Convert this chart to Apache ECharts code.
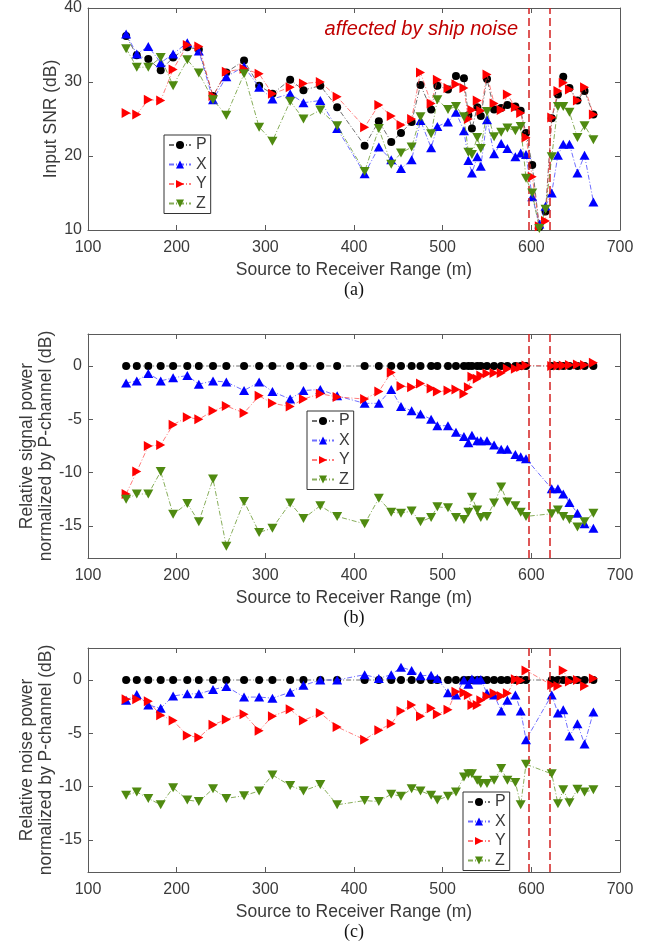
<!DOCTYPE html>
<html><head><meta charset="utf-8">
<script src="https://cdn.jsdelivr.net/npm/echarts@6/dist/echarts.min.js"></script>
<style>html,body{margin:0;padding:0;background:#fff}#chart{width:655px;height:947px}</style>
</head><body><div id="chart"></div>
<script>
// Source-to-receiver ranges (m), shared by all panels
const ranges = [143,155,168,182,196,212,225,241,256,276, 293,308,328,343,362,381,412,428,442,453, 465,475,487,494,506,515,524,529,533,539, 543,550,558,566,573,582,588,594,601,609, 616,623,630,636,643,652,660,670];

// (a) Input SNR (dB)
const snrP = [36.2,33.6,33.1,31.6,33.3,34.7,34.4,28.1,31.3,32.9, 29.5,28.4,30.3,28.9,29.5,26.6,21.4,24.7,21.9,23.1, 24.6,29.6,26.3,29.5,29.0,30.8,30.5,25.5,23.7,26.6, 25.4,30.4,26.3,26.5,26.9,26.7,26.1,23.1,18.8,10.4, 12.5,25.1,28.3,30.7,29.2,27.5,28.8,25.6];
const snrX = [36.5,33.8,34.8,32.6,33.8,35.3,34.2,27.6,30.7,32.1, 29.3,27.7,28.4,27.2,27.5,23.7,17.6,21.2,19.5,18.3, 19.5,24.8,21.1,24.0,24.6,25.9,23.4,19.4,17.7,19.9, 18.6,24.9,20.3,21.7,21.0,19.9,20.4,20.2,14.5,10.8, 13.2,15.0,20.1,21.6,21.6,17.7,20.1,13.8];
const snrY = [25.8,25.6,27.6,27.5,31.7,35.0,34.8,28.1,31.4,31.8, 31.1,28.4,29.3,29.8,30.0,28.0,23.9,26.9,25.4,24.2, 25.0,31.3,27.1,30.3,29.2,29.7,29.2,25.0,26.2,27.5, 26.1,31.0,27.1,26.2,28.3,26.6,25.8,22.5,17.2,10.5, 11.2,25.2,28.8,29.9,29.0,27.5,29.3,25.6];
const snrZ = [34.5,32.0,32.0,33.3,29.5,33.0,31.2,27.6,25.5,31.1, 23.9,22.0,27.4,25.0,26.2,24.1,17.9,23.7,18.9,20.4, 21.2,25.3,23.0,27.6,26.3,26.7,25.3,20.5,20.2,22.5, 21.0,26.0,22.6,23.2,23.8,23.4,24.0,17.0,15.0,10.2, 12.8,19.9,26.7,26.7,25.9,22.5,24.1,22.2];

// (b) Relative signal power normalized by P-channel (dB)
const sigP = [0,0,0,0,0,0,0,0,0,0, 0,0,0,0,0,0,0,0,0,0, 0,0,0,0,0,0,0,0,0,0, 0,0,0,0,0,0,0,0,null,null, null,0,0,0,0,0,0,0];
const sigX = [-1.6,-1.4,-0.7,-1.4,-1.1,-0.9,-1.7,-1.4,-1.5,-2.3, -1.5,-2.4,-3.1,-2.3,-2.2,-2.8,-3.5,-3.5,-2.2,-3.8, -4.2,-4.5,-5.0,-5.6,-5.6,-6.2,-6.6,-7.2,-6.5,-7.0, -7.0,-7.0,-7.4,-7.8,-7.8,-8.3,-8.5,-8.7,null,null, null,-11.5,-11.5,-12.0,-12.8,-13.8,-14.8,-15.2];
const sigY = [-12.0,-9.9,-7.5,-7.4,-5.5,-4.8,-5.0,-4.2,-3.75,-4.4, -2.8,-3.5,-3.8,-3.1,-2.6,-2.9,-3.1,-2.4,-0.6,-1.9, -2.0,-1.65,-2.1,-2.4,-2.3,-2.2,-2.6,-2.0,-1.0,-1.2, -0.9,-0.7,-0.65,-0.65,-0.25,-0.25,-0.1,0.05,null,null, null,0,0.05,0.05,0.1,0.15,0.1,0.3];
const sigZ = [-12.5,-12.0,-12.0,-9.9,-13.9,-12.9,-14.6,-10.6,-16.9,-12.7, -15.6,-15.2,-12.85,-14.3,-13.1,-14.1,-14.8,-12.4,-13.7,-13.8, -13.6,-14.6,-14.2,-13.2,-13.3,-14.2,-14.4,-13.7,-12.3,-13.5, -14.2,-14.1,-12.85,-11.35,-12.75,-13.1,-13.7,-14.1,null,null, null,-13.85,-13.5,-14.1,-14.4,-15.1,-14.6,-13.8];

// (c) Relative noise power normalized by P-channel (dB)
const noiseP = [0,0,0,0,0,0,0,0,0,0, 0,0,0,0,0,0,0,0,0,0, 0,0,0,0,0,0,0,0,0,0, 0,0,0,0,0,0,0,0,null,null, null,0,0,0,0,0,0,0];
const noiseX = [-1.9,-1.35,-2.35,-2.65,-1.5,-1.3,-1.3,-0.9,-0.6,-1.6, -1.6,-1.7,-1.15,-0.5,0,0,0.5,0.15,0.5,1.2, 0.9,0.4,0.45,0.15,-1.2,-1.4,0,-0.4,0.1,0, 0.05,-1.25,-1.4,-2.9,-1.9,-1.4,-2.9,-5.6,null,null, null,-1.4,-3.1,-2.8,-5.25,-4.1,-6.0,-3.0];
const noiseY = [-1.8,-1.8,-2.0,-3.3,-3.8,-5.2,-5.4,-4.2,-3.7,-3.2, -4.75,-3.4,-2.75,-3.8,-3.1,-4.4,-5.6,-4.7,-4.1,-2.9, -2.35,-3.4,-2.65,-3.2,-2.8,-1.1,-1.2,-1.4,-2.35,-2.35, -1.9,-1.55,-1.25,-1.5,-1.25,0.06,-0.05,0.9,null,null, null,-0.47,-0.56,0.9,-0.15,0,-0.56,0.15];
const noiseZ = [-10.8,-10.5,-11.1,-11.7,-10.1,-11.25,-11.4,-10.2,-11.1,-10.85, -10.4,-8.9,-9.9,-10.4,-9.8,-11.7,-11.3,-11.4,-10.7,-10.9, -10.2,-10.4,-10.8,-11.25,-10.9,-10.5,-9.1,-8.8,-8.8,-9.4, -9.7,-9.7,-9.4,-8.3,-9.4,-9.6,-11.7,-7.9,null,null, null,-8.8,-11.6,-10.3,-11.5,-10.25,-10.5,-10.3];

const seriesNames = ['P','X','Y','Z'];
const relTicks = [-15,-10,-5,0];
const shipNoiseBounds = [597.5, 621];
const captions = ['(a)','(b)','(c)'];
const annotation = 'affected by ship noise';

const FONT = '"Liberation Sans", Arial, Helvetica, sans-serif';
const SERIF = '"Liberation Serif", "Times New Roman", serif';
const TXT = '#3a3a3a';
const AX = '#5a5a5a';

const panels = [
  {data:[snrP,snrX,snrY,snrZ], min:10, max:40, interval:10, ticks:null, name:'Input SNR (dB)', gap:27, top:6, legend:{left:164, top:135}},
  {data:[sigP,sigX,sigY,sigZ], min:-18, max:3, interval:null, ticks:relTicks, name:'Relative signal power\nnormalized by P-channel (dB)', gap:32, top:334, legend:{left:307, top:411}},
  {data:[noiseP,noiseX,noiseY,noiseZ], min:-18, max:3, interval:null, ticks:relTicks, name:'Relative noise power\nnormalized by P-channel (dB)', gap:32, top:648, legend:{left:463, top:792}}
];
const H = 224;

const styles = {
  P:{symbol:'circle', size:8, rotate:0, color:'#000000', line:'rgba(50,50,50,0.7)'},
  X:{symbol:'triangle', size:[10,9], rotate:0, color:'#0000ff', line:'rgba(50,50,255,0.7)'},
  Y:{symbol:'triangle', size:[10,9], rotate:-90, color:'#ff0000', line:'rgba(255,70,70,0.7)'},
  Z:{symbol:'triangle', size:[10,9], rotate:180, color:'#4f8a10', line:'rgba(95,145,35,0.75)'}
};

const grid=[], xAxis=[], yAxis=[], series=[], legend=[], graphic=[];
panels.forEach((p,i)=>{
  grid.push({left:88, right:35, top:p.top, height:H, containLabel:false});
  const axLine = {show:true, onZero:false, lineStyle:{color:AX, width:1}};
  const axTick = {show:true, inside:true, length:5, lineStyle:{color:AX}};
  xAxis.push({type:'value', gridIndex:i, min:100, max:700, interval:100, axisLine:axLine, axisTick:axTick,
    axisLabel:{fontSize:16, color:TXT, margin:10, fontFamily:FONT}, splitLine:{show:false},
    name:'Source to Receiver Range (m)', nameLocation:'middle', nameGap:31, nameMoveOverlap:false,
    nameTextStyle:{fontSize:17.5, color:TXT, fontFamily:FONT}});
  const yBase = {type:'value', gridIndex:i, min:p.min, max:p.max, axisLine:axLine, splitLine:{show:false}};
  if (p.interval) yBase.interval = p.interval;
  const yTick = Object.assign({}, axTick); if (p.ticks) yTick.customValues = p.ticks;
  const yLab = {fontSize:16, color:TXT, margin:6, fontFamily:FONT}; if (p.ticks) yLab.customValues = p.ticks;
  yAxis.push(Object.assign({}, yBase, {position:'left', axisTick:yTick, axisLabel:yLab,
    name:p.name, nameLocation:'middle', nameRotate:90, nameGap:p.gap, nameMoveOverlap:false,
    nameTextStyle:{fontSize:17.5, color:TXT, fontFamily:FONT, lineHeight:19}}));
});
panels.forEach((p,i)=>{
  const axLine = {show:true, onZero:false, lineStyle:{color:AX, width:1}};
  const axTick = {show:true, inside:true, length:5, lineStyle:{color:AX}};
  xAxis.push({type:'value', gridIndex:i, position:'top', min:100, max:700, interval:100, axisLine:axLine, axisTick:axTick, axisLabel:{show:false}, splitLine:{show:false}});
  const yTick = Object.assign({}, axTick); if (p.ticks) yTick.customValues = p.ticks;
  const y = {type:'value', gridIndex:i, position:'right', min:p.min, max:p.max, axisLine:axLine, axisTick:yTick, axisLabel:{show:false}, splitLine:{show:false}};
  if (p.interval) y.interval = p.interval;
  yAxis.push(y);
});

panels.forEach((p,i)=>{
  seriesNames.forEach((nm,k)=>{
    const st = styles[nm];
    const s = {
      type:'line', name:nm, xAxisIndex:i, yAxisIndex:i,
      data: ranges.map((r,j)=>[r, p.data[k][j]]),
      connectNulls:true, symbol:st.symbol, symbolSize:st.size, symbolRotate:st.rotate,
      showAllSymbol:true,
      itemStyle:{color:st.color}, lineStyle:{color:st.line, width:1, type:[5,2,1,2]},
      emphasis:{disabled:true}, animation:false, z:2+k
    };
    if (k===3) {
      s.markLine = {silent:true, symbol:['none','none'], label:{show:false}, animation:false,
        lineStyle:{color:'#d42020', type:[8,4], width:1.5},
        emphasis:{disabled:true},
        data: shipNoiseBounds.map(v=>({xAxis:v}))};
    }
    series.push(s);
  });
  legend.push({orient:'vertical', left:p.legend.left, top:p.legend.top, data:seriesNames,
    itemWidth:22, itemHeight:10, itemGap:3.5, padding:[2,4,2,4],
    borderColor:'#333', borderWidth:1, backgroundColor:'#fff', selectedMode:false,
    textStyle:{fontSize:16, lineHeight:16, color:TXT, fontFamily:FONT}});
  graphic.push({type:'text', x:354, y:p.top+H+60, silent:true,
    style:{text:captions[i], fill:'#111', font:'18px '+SERIF, align:'center', verticalAlign:'middle'}});
});
graphic.push({type:'text', x:518, y:29, silent:true,
  style:{text:annotation, fill:'#c00000', font:'italic 20px '+FONT, align:'right', verticalAlign:'middle'}});

const chart = echarts.init(document.getElementById('chart'));
chart.setOption({animation:false, backgroundColor:'#fff', grid, xAxis, yAxis, series, legend, graphic});
</script></body></html>
